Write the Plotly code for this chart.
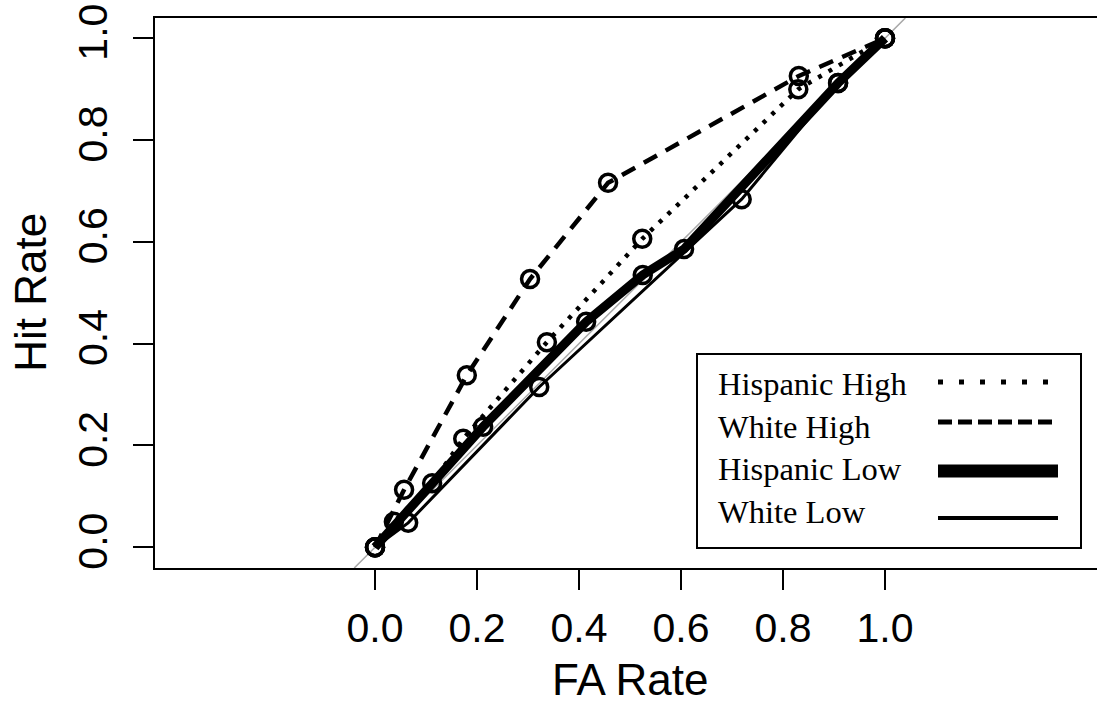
import plotly.graph_objects as go

# ---- data ----
hisp_high_fa = [0.0, 0.037, 0.112, 0.173, 0.337, 0.524, 0.830, 1.0]
hisp_high_hit = [0.0, 0.050, 0.126, 0.213, 0.403, 0.606, 0.900, 1.0]
white_high_fa = [0.0, 0.057, 0.180, 0.304, 0.457, 0.831, 1.0]
white_high_hit = [0.0, 0.113, 0.338, 0.527, 0.716, 0.926, 1.0]
hisp_low_fa = [0.0, 0.212, 0.414, 0.525, 0.606, 0.908, 1.0]
hisp_low_hit = [0.0, 0.237, 0.443, 0.535, 0.586, 0.912, 1.0]
white_low_fa = [0.0, 0.065, 0.322, 0.719, 0.908, 1.0]
white_low_hit = [0.0, 0.048, 0.315, 0.684, 0.912, 1.0]
diag = [-0.0407, 1.0399]

tick_vals = [0.0, 0.2, 0.4, 0.6, 0.8, 1.0]
tick_text = ["0.0", "0.2", "0.4", "0.6", "0.8", "1.0"]
legend_names = ["Hispanic High", "White High", "Hispanic Low", "White Low"]

W, H = 1097, 704
L, R, T, B = 155, 0, 18, 136
PW, PH = W - L - R, H - T - B


def px_x(p):
    return (p - L) / PW


def px_y(p):
    return (H - B - p) / PH


marker = dict(symbol="circle-open", size=17, color="black", line=dict(width=3.5, color="black"))

fig = go.Figure()
fig.add_trace(go.Scatter(x=diag, y=diag, mode="lines",
                         line=dict(color="#a8a8a8", width=1.5), hoverinfo="skip"))
fig.add_trace(go.Scatter(x=white_low_fa, y=white_low_hit, mode="lines+markers",
                         name=legend_names[3], line=dict(color="black", width=3), marker=marker))
fig.add_trace(go.Scatter(x=hisp_low_fa, y=hisp_low_hit, mode="lines+markers",
                         name=legend_names[2], line=dict(color="black", width=9), marker=marker))
fig.add_trace(go.Scatter(x=hisp_high_fa, y=hisp_high_hit, mode="lines+markers",
                         name=legend_names[0], line=dict(color="black", width=4.5, dash="4px,8px"),
                         marker=marker))
fig.add_trace(go.Scatter(x=white_high_fa, y=white_high_hit, mode="lines+markers",
                         name=legend_names[1], line=dict(color="black", width=4.5, dash="15px,10px"),
                         marker=marker))

axis_font = dict(family="Liberation Sans, Arial, sans-serif", size=41, color="black")

fig.update_layout(
    width=W, height=H,
    margin=dict(l=L, r=R, t=T, b=B, pad=0),
    paper_bgcolor="white", plot_bgcolor="white",
    showlegend=False,
    xaxis=dict(range=[-0.4314, 1.4157], tickvals=tick_vals, ticktext=tick_text,
               showgrid=False, zeroline=False, showline=True, linecolor="black",
               linewidth=2, mirror=True, ticks="outside", ticklen=20, tickwidth=2,
               tickcolor="black", tickfont=axis_font, ticklabelstandoff=3),
    yaxis=dict(range=[-0.0407, 1.0399], tickvals=tick_vals, ticktext=tick_text,
               showgrid=False, zeroline=False, showline=True, linecolor="black",
               linewidth=2, ticks="outside", ticklen=20, tickwidth=2, tickcolor="black",
               tickfont=axis_font, tickangle=-90, ticklabelstandoff=10),
)

title_font = dict(family="Liberation Sans, Arial, sans-serif", size=44, color="black")
fig.add_annotation(text="FA Rate", xref="x", yref="paper", x=0.5, y=px_y(679),
                   xanchor="center", yanchor="middle", showarrow=False, font=title_font)
fig.add_annotation(text="Hit Rate", xref="paper", yref="y", x=px_x(31), y=0.5,
                   xanchor="center", yanchor="middle", textangle=-90, showarrow=False,
                   font=title_font)

# ---- legend box (text left, line sample right) ----
fig.add_shape(type="rect", xref="paper", yref="paper",
              x0=px_x(697), x1=px_x(1081), y0=px_y(548), y1=px_y(354),
              line=dict(color="black", width=2), fillcolor="white", layer="above")

leg_font = dict(family="Liberation Serif, Times New Roman, serif", size=32.5, color="black")
text_centers = [384, 427, 469, 512]
line_rows = [382, 422, 471, 518]
line_styles = [dict(width=5, dash="5px,16px"), dict(width=5, dash="14px,6px"),
               dict(width=13, dash="solid"), dict(width=4, dash="solid")]
for name, ty, ly, st in zip(legend_names, text_centers, line_rows, line_styles):
    fig.add_annotation(text=name, xref="paper", yref="paper", x=px_x(716), y=px_y(ty),
                       xanchor="left", yanchor="middle", showarrow=False, font=leg_font)
    fig.add_shape(type="line", xref="paper", yref="paper",
                  x0=px_x(938), x1=px_x(1058), y0=px_y(ly), y1=px_y(ly),
                  line=dict(color="black", **st), layer="above")

fig.write_html("out.html")
